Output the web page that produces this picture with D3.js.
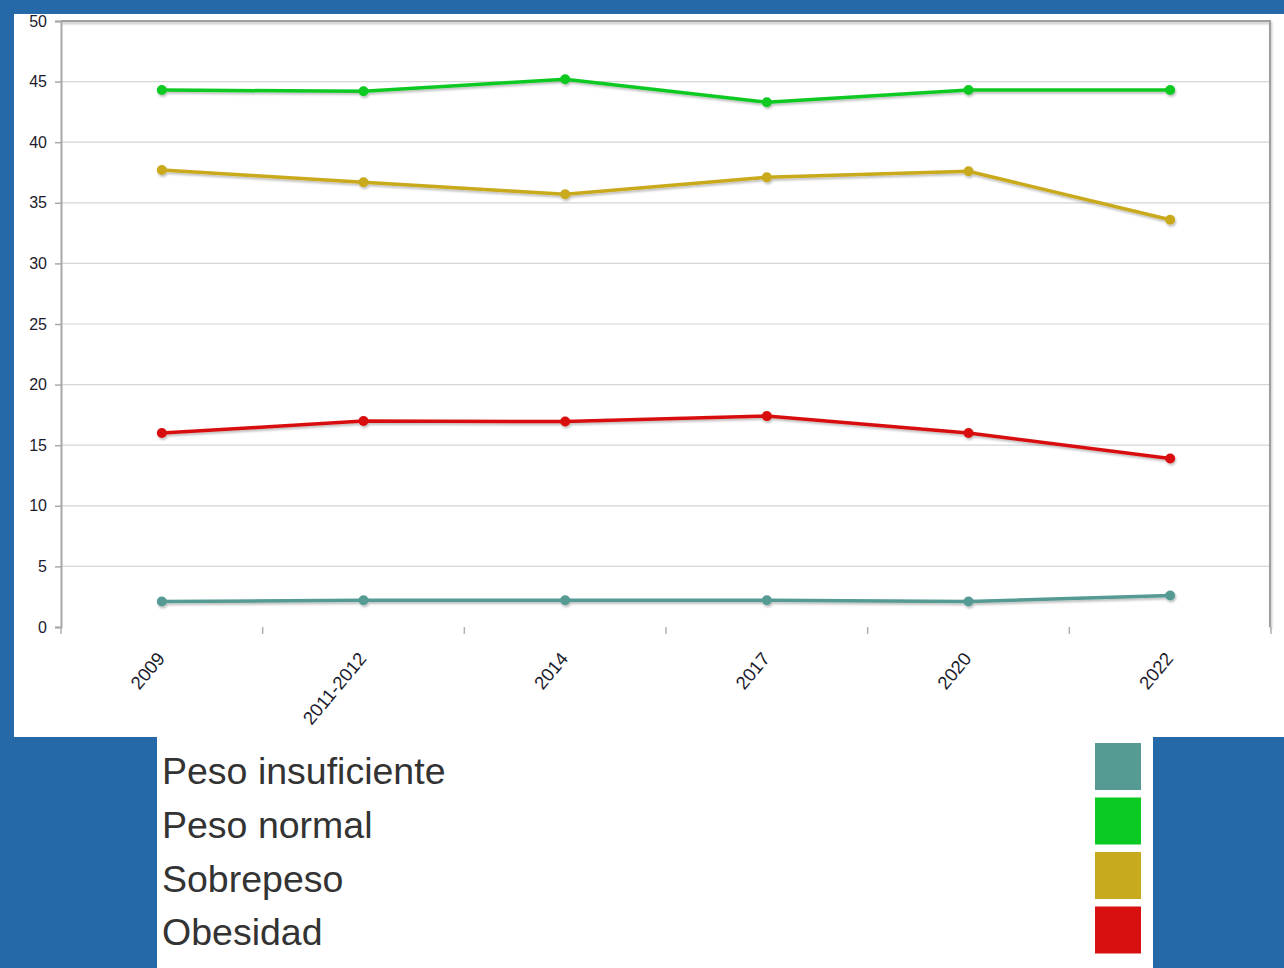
<!DOCTYPE html>
<html>
<head>
<meta charset="utf-8">
<script src="https://cdn.jsdelivr.net/npm/d3@7"></script>
<style>
  html, body { margin: 0; padding: 0; background: #2569a9; }
  body { width: 1284px; height: 968px; overflow: hidden; font-family: "Liberation Sans", Arial, sans-serif; }
</style>
</head>
<body>
<div id="chart"></div>
<script>
// categories and series (percent)
var years = ["2009", "2011-2012", "2014", "2017", "2020", "2022"];
var seriesNames = ["Peso insuficiente", "Peso normal", "Sobrepeso", "Obesidad"];
var seriesColors = ["#559b94", "#0bc923", "#c8aa1e", "#d81010"];
var pesoInsuficiente = [2.1, 2.2, 2.2, 2.2, 2.1, 2.6];
var pesoNormal = [44.3, 44.2, 45.2, 43.3, 44.3, 44.3];
var sobrepeso = [37.7, 36.7, 35.7, 37.1, 37.6, 33.6];
var obesidad = [16.0, 17.0, 16.95, 17.4, 16.0, 13.9];
var yTicks = [0, 5, 10, 15, 20, 25, 30, 35, 40, 45, 50];

var allSeries = [pesoInsuficiente, pesoNormal, sobrepeso, obesidad];

var W = 1284, H = 968;
var plot = {left: 61, right: 1271, top: 21, bottom: 627};

var svg = d3.select("#chart").append("svg")
    .attr("width", W)
    .attr("height", H);

var defs = svg.append("defs");
var shadow = defs.append("filter")
    .attr("id", "shadow")
    .attr("x", "-20%").attr("y", "-20%")
    .attr("width", "140%").attr("height", "160%");
shadow.append("feDropShadow")
    .attr("dx", 1).attr("dy", 2)
    .attr("stdDeviation", 1.2)
    .attr("flood-color", "#000")
    .attr("flood-opacity", 0.25);

// panels
svg.append("rect")
    .attr("x", 14).attr("y", 14)
    .attr("width", W - 14).attr("height", 737 - 14)
    .attr("fill", "#fff");
svg.append("rect")
    .attr("x", 157).attr("y", 737)
    .attr("width", 1153 - 157).attr("height", H - 737)
    .attr("fill", "#fff");

var x = d3.scaleBand()
    .domain(years)
    .range([plot.left, plot.right]);

var y = d3.scaleLinear()
    .domain([0, 50])
    .range([plot.bottom, plot.top]);

// grid
svg.append("g")
    .selectAll("line")
    .data(yTicks.filter(function(d) { return d > 0 && d < 50; }))
    .enter()
    .append("line")
        .attr("x1", plot.left)
        .attr("x2", plot.right)
        .attr("y1", function(d) { return y(d); })
        .attr("y2", function(d) { return y(d); })
        .attr("stroke", "#d6d6d6")
        .attr("stroke-width", 1.2);

// frame top / right
svg.append("path")
    .attr("d", "M" + plot.left + "," + plot.top + "H" + (plot.right - 1) + "V" + plot.bottom)
    .attr("fill", "none")
    .attr("stroke", "#a0a0a0")
    .attr("stroke-width", 2)
    .attr("filter", "url(#shadow)");

// y axis
var yAxis = d3.axisLeft(y)
    .tickValues(yTicks)
    .tickSize(6)
    .tickPadding(8);
var gy = svg.append("g")
    .attr("transform", "translate(" + plot.left + ",0)")
    .call(yAxis);
gy.select(".domain").attr("stroke", "#a8a8a8").attr("stroke-width", 2);
gy.selectAll(".tick line").attr("stroke", "#a8a8a8").attr("stroke-width", 1.5);
gy.selectAll(".tick text")
    .attr("fill", "#1b1b2e")
    .style("font-size", "16px")
    .style("font-family", "'Liberation Sans', Arial, sans-serif");

// x axis: ticks at band edges
var edges = years.map(function(d) { return x(d); }).concat([plot.right]);
var gx = svg.append("g");
gx.selectAll("line.tk")
    .data(edges)
    .enter()
    .append("line")
        .attr("class", "tk")
        .attr("x1", function(d) { return d; })
        .attr("x2", function(d) { return d; })
        .attr("y1", plot.bottom)
        .attr("y2", plot.bottom + 7)
        .attr("stroke", "#b0b0b0")
        .attr("stroke-width", 1.5);
gx.append("line")
    .attr("x1", plot.left)
    .attr("x2", plot.right)
    .attr("y1", plot.bottom)
    .attr("y2", plot.bottom)
    .attr("stroke", "#6a6a6a")
    .attr("stroke-width", 2)
    .attr("filter", "url(#shadow)");

gx.selectAll("text")
    .data(years)
    .enter()
    .append("text")
        .attr("transform", function(d) {
            return "translate(" + (x(d) + x.bandwidth() / 2 - 1) + "," + (plot.bottom + 28) + ") rotate(-50)";
        })
        .attr("text-anchor", "end")
        .attr("dy", "0.35em")
        .attr("fill", "#1b1b2e")
        .style("font-size", "18.5px")
        .text(function(d) { return d; });

// lines and points
var line = d3.line()
    .x(function(d, i) { return x(years[i]) + x.bandwidth() / 2; })
    .y(function(d) { return y(d); });

var series = svg.append("g")
    .selectAll("g")
    .data(allSeries)
    .enter()
    .append("g")
        .attr("filter", "url(#shadow)");

series.append("path")
    .attr("d", function(d) { return line(d); })
    .attr("fill", "none")
    .attr("stroke", function(d, i) { return seriesColors[i]; })
    .attr("stroke-width", 3.5);

series.each(function(d, si) {
    d3.select(this).selectAll("circle")
        .data(d)
        .enter()
        .append("circle")
            .attr("cx", function(v, i) { return x(years[i]) + x.bandwidth() / 2; })
            .attr("cy", function(v) { return y(v); })
            .attr("r", 5)
            .attr("fill", seriesColors[si]);
});

// legend
var legend = svg.append("g");
legend.selectAll("text")
    .data(seriesNames)
    .enter()
    .append("text")
        .attr("x", 162)
        .attr("y", function(d, i) { return 784 + i * 53.8; })
        .attr("fill", "#333")
        .style("font-size", "37.5px")
        .text(function(d) { return d; });
legend.selectAll("rect")
    .data(seriesColors)
    .enter()
    .append("rect")
        .attr("x", 1095)
        .attr("y", function(d, i) { return 743 + i * 54.5; })
        .attr("width", 46)
        .attr("height", 47)
        .attr("fill", function(d) { return d; });
</script>
</body>
</html>
